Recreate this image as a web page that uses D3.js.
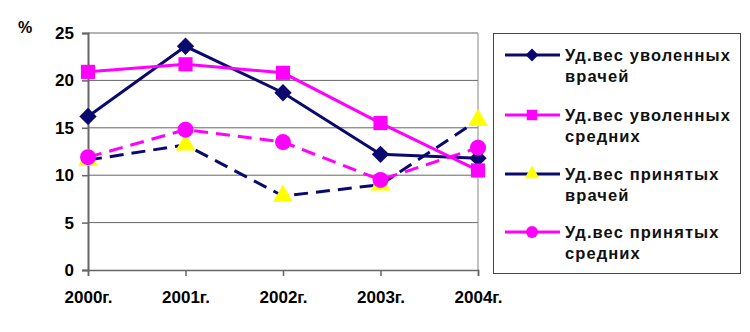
<!DOCTYPE html>
<html><head><meta charset="utf-8">
<script src="https://cdn.jsdelivr.net/npm/d3@7"></script>
<style>body{margin:0;background:#fff}svg{display:block}</style>
</head><body><svg id="c" width="750" height="332"></svg>
<script>
const categories = ["2000г.","2001г.","2002г.","2003г.","2004г."];
const yTicks = [0,5,10,15,20,25];
const seriesNames = [["Уд.вес уволенных","врачей"],["Уд.вес уволенных","средних"],["Уд.вес принятых","врачей"],["Уд.вес принятых","средних"]];
const dismissedDoctors = [16.2,23.6,18.7,12.2,11.8];
const dismissedNurses = [20.9,21.7,20.8,15.5,10.5];
const hiredDoctors = [11.6,13.2,7.8,9.0,15.8];
const hiredNurses = [11.9,14.8,13.5,9.5,12.9];

const series = [
 {name:seriesNames[0], values:dismissedDoctors, line:"#0a0a6e", fill:"#0a0a6e", dash:null, sym:d3.symbolSquare, size:150, rot:45},
 {name:seriesNames[1], values:dismissedNurses, line:"#ff00ff", fill:"#ff00ff", dash:null, sym:d3.symbolSquare, size:200, rot:0},
 {name:seriesNames[2], values:hiredDoctors, line:"#0a0a6e", fill:"#ffff00", dash:"14,8", sym:d3.symbolTriangle, size:170, rot:0},
 {name:seriesNames[3], values:hiredNurses, line:"#ff00ff", fill:"#ff00ff", dash:"14,8", sym:d3.symbolCircle, size:200, rot:0}
];

const svg = d3.select("#c");
const x = d3.scalePoint().domain(categories).range([88,478]);
const y = d3.scaleLinear().domain([0,25]).range([270,33]);
const font = "Arial, 'Liberation Sans', sans-serif";

svg.append("g").selectAll("line").data(yTicks.filter(t=>t>0)).join("line")
 .attr("x1",88).attr("x2",478).attr("y1",d=>y(d)).attr("y2",d=>y(d))
 .attr("stroke","#666").attr("stroke-width",1);
svg.append("line").attr("x1",478).attr("x2",478).attr("y1",33).attr("y2",270).attr("stroke","#888");

const yAxis = svg.append("g").attr("transform","translate(88,0)")
 .call(d3.axisLeft(y).tickValues(yTicks).tickSize(6).tickPadding(8));
const xAxis = svg.append("g").attr("transform","translate(0,270)")
 .call(d3.axisBottom(x).tickSize(6).tickPadding(15));
[yAxis,xAxis].forEach(a=>{
 a.select(".domain").attr("stroke","#666").attr("stroke-width",2);
 a.selectAll(".tick line").attr("stroke","#666").attr("stroke-width",1.5);
 a.selectAll("text").attr("font-family",font).attr("font-weight","bold").attr("font-size",17).attr("fill","#000");
});
xAxis.select(".domain").attr("stroke-width",1.5);

svg.append("text").attr("x",18).attr("y",33).text("%")
 .attr("font-family",font).attr("font-weight","bold").attr("font-size",16);

const line = d3.line().x((d,i)=>x(categories[i])).y(d=>y(d));
series.forEach(s=>{
 svg.append("path").attr("d",line(s.values)).attr("fill","none")
  .attr("stroke",s.line).attr("stroke-width",3).attr("stroke-dasharray",s.dash);
 svg.append("g").selectAll("path").data(s.values).join("path")
  .attr("d",d3.symbol(s.sym,s.size))
  .attr("transform",(d,i)=>`translate(${x(categories[i])},${y(d)}) rotate(${s.rot})`)
  .attr("fill",s.fill);
});

svg.append("rect").attr("x",493.5).attr("y",33.5).attr("width",247).attr("height",240)
 .attr("fill","#fff").attr("stroke","#444").attr("stroke-width",1);
const ly = [55,115,174,232];
series.forEach((s,i)=>{
 const g = svg.append("g").attr("transform",`translate(0,${ly[i]})`);
 g.append("line").attr("x1",505).attr("x2",560).attr("y1",0).attr("y2",0)
  .attr("stroke",s.line).attr("stroke-width",3);
 g.append("path").attr("d",d3.symbol(s.sym,s.size*0.55)).attr("transform",`translate(532,0) rotate(${s.rot})`).attr("fill",s.fill);
 s.name.forEach((t,j)=>{
  g.append("text").attr("x",565).attr("y",6+j*21).text(t)
   .attr("font-family",font).attr("font-weight","bold").attr("font-size",16.5)
   .attr("letter-spacing","1.1px").attr("fill","#111");
 });
});
</script></body></html>
